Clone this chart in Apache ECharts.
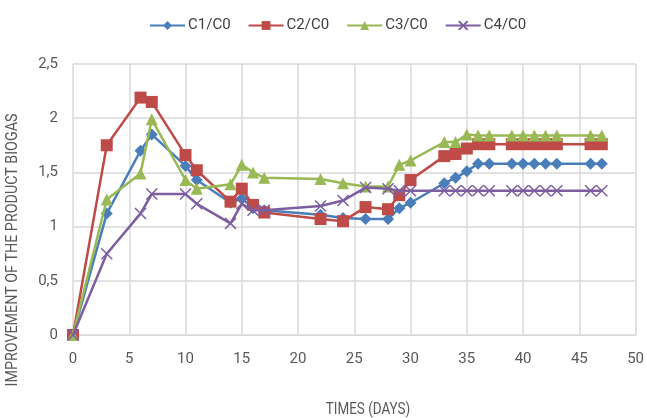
<!DOCTYPE html>
<html>
<head>
<meta charset="utf-8">
<script src="https://cdn.jsdelivr.net/npm/echarts@6/dist/echarts.min.js"></script>
<style>
  html, body { margin: 0; padding: 0; background: #fff; }
  #chart { width: 647px; height: 418px; }
</style>
</head>
<body>
<div id="chart"></div>
<script>
// days of measurement
var days = [0, 3, 6, 7, 10, 11, 14, 15, 16, 17, 22, 24, 26, 28, 29, 30, 33, 34, 35, 36, 37, 39, 40, 41, 42, 43, 46, 47];
// ratios
var c1 = [0, 1.12, 1.70, 1.85, 1.56, 1.43, 1.22, 1.26, 1.17, 1.15, 1.11, 1.08, 1.07, 1.07, 1.17, 1.22, 1.40, 1.45, 1.51, 1.58, 1.58, 1.58, 1.58, 1.58, 1.58, 1.58, 1.58, 1.58];
var c2 = [0, 1.75, 2.19, 2.15, 1.66, 1.52, 1.23, 1.35, 1.20, 1.13, 1.07, 1.05, 1.18, 1.16, 1.29, 1.43, 1.65, 1.67, 1.72, 1.76, 1.76, 1.76, 1.76, 1.76, 1.76, 1.76, 1.76, 1.76];
var c3 = [0, 1.25, 1.49, 1.99, 1.43, 1.35, 1.39, 1.57, 1.50, 1.45, 1.44, 1.40, 1.37, 1.37, 1.57, 1.61, 1.78, 1.78, 1.85, 1.84, 1.84, 1.84, 1.84, 1.84, 1.84, 1.84, 1.84, 1.84];
var c4 = [0, 0.75, 1.12, 1.30, 1.30, 1.21, 1.03, 1.21, 1.15, 1.15, 1.19, 1.24, 1.36, 1.35, 1.33, 1.33, 1.33, 1.33, 1.33, 1.33, 1.33, 1.33, 1.33, 1.33, 1.33, 1.33, 1.33, 1.33];
var names = ['C1/C0', 'C2/C0', 'C3/C0', 'C4/C0'];
var colors = ['#4A7EBB', '#BE4B48', '#98B954', '#7D5FA0'];

var font = 'Roboto, "Open Sans", sans-serif';

function pairs(vals) {
  return days.map(function (d, i) { return [d, vals[i]]; });
}

// the X marker of the 4th series, stroked not filled
var crossPath = 'path://M0,0 L10,10 M10,0 L0,10';
var symbols = ['diamond', 'rect', 'triangle', crossPath];
var sizes = [12, 12, 12, 11];

var chart = echarts.init(document.getElementById('chart'));

chart.setOption({
  animation: false,
  color: colors,
  textStyle: { fontFamily: font },
  legend: {
    top: 13,
    left: 144,
    itemWidth: 35,
    itemHeight: 11,
    itemGap: 17,
    textStyle: { fontSize: 15, color: '#404040', fontFamily: font, padding: [0, 0, 0, -2] },
    data: names
  },
  grid: { left: 73, right: 10, top: 64, bottom: 83 },
  xAxis: {
    type: 'value',
    min: 0, max: 50, interval: 5,
    axisLine: { show: true, lineStyle: { color: '#d9d9d9', width: 1 } },
    axisTick: { show: false },
    splitLine: { show: true, lineStyle: { color: '#d9d9d9', width: 1.5 } },
    axisLabel: { margin: 17, fontSize: 15, color: '#595959', fontFamily: font }
  },
  yAxis: {
    type: 'value',
    min: 0, max: 2.5, interval: 0.5,
    axisLine: { show: false },
    axisTick: { show: false },
    splitLine: { show: true, lineStyle: { color: '#d9d9d9', width: 1.5 } },
    axisLabel: {
      margin: 15, fontSize: 15, color: '#595959', fontFamily: font,
      formatter: function (v) { return String(v).replace('.', ','); }
    }
  },
  graphic: [{
    type: 'text',
    x: 13, y: 250,
    rotation: Math.PI / 2,
    scaleX: 0.84,
    style: {
      text: 'IMPROVEMENT OF THE PRODUCT BIOGAS',
      fill: '#595959',
      font: '17px ' + font,
      align: 'center',
      verticalAlign: 'middle'
    }
  }, {
    type: 'text',
    x: 368, y: 410,
    scaleX: 0.84,
    style: {
      text: 'TIMES (DAYS)',
      fill: '#595959',
      font: '16px ' + font,
      align: 'center',
      verticalAlign: 'middle'
    }
  }],
  series: [c1, c2, c3, c4].map(function (vals, i) {
    return {
      name: names[i],
      type: 'line',
      data: pairs(vals),
      symbol: symbols[i],
      symbolSize: sizes[i],
      showAllSymbol: true,
      lineStyle: { width: 2.5, color: colors[i] },
      itemStyle: i === 3
        ? { color: colors[i], borderColor: colors[i], borderWidth: 1.5 }
        : { color: colors[i], borderWidth: 0 },
      z: 2 + i
    };
  })
});
</script>
</body>
</html>
